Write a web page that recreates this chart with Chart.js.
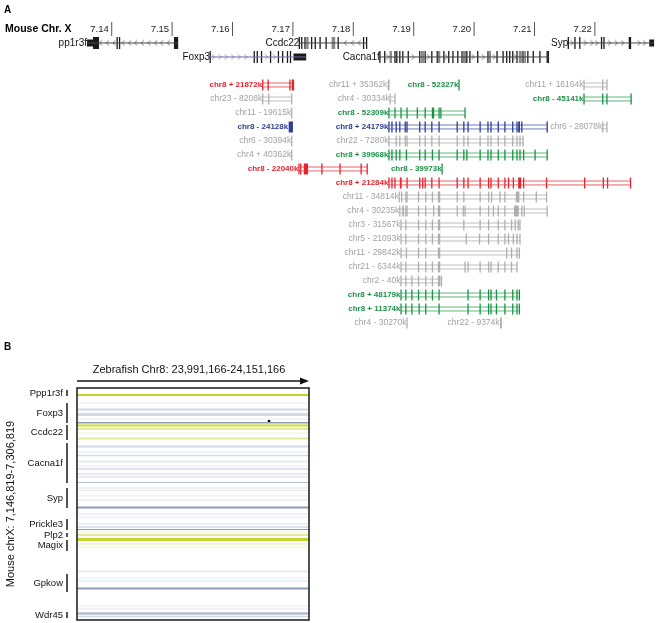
<!DOCTYPE html>
<html>
<head>
<meta charset="utf-8">
<script src="https://cdn.jsdelivr.net/npm/chart.js@4.4.1/dist/chart.umd.min.js"></script>
<style>
  html, body { margin: 0; padding: 0; background: #fff; }
  #wrap { position: relative; width: 658px; height: 623px; }
  #panelA { position: absolute; left: 0; top: 0; }
  #panelB { position: absolute; left: 0; top: 330px; }
</style>
</head>
<body>
<div id="wrap">
  <canvas id="panelA" width="658" height="330"></canvas>
  <canvas id="panelB" width="658" height="293"></canvas>
</div>
<script>
// ---------- panel A data (mouse chrX positions in kb) ----------
const rulerTicks = [7140, 7150, 7160, 7170, 7180, 7190, 7200, 7210, 7220];
const rulerLabels = ["7.14", "7.15", "7.16", "7.17", "7.18", "7.19", "7.20", "7.21", "7.22"];

const geneNames = ["pp1r3f", "Ccdc22", "Syp", "Foxp3", "Cacna1f"];
const geneRows = [-3, -3, -3, -2, -2];
const geneStrands = ["-", "-", "+", "+", "+"];
// exon: position, or [start, end, flag]  (u = UTR, g = alternative exon)
const geneExons = [
  [[7135.9, 7136.9, "u"], [7136.9, 7137.9], 7140.9, 7141.3, [7150.3, 7151.0]],
  [7171.06, 7171.46, 7172.0, [7172.2, 7172.6, "g"], 7173.1, 7173.7, 7174.5, 7175.5, [7176.4, 7177.0, "g"],
   7177.5, 7181.7, 7182.2],
  [7215.6, 7216.7, 7217.5, 7221.1, 7221.5, [7225.6, 7226.0], [7229.0, 7229.8, "u"]],
  [7156.3, 7163.6, 7164.1, 7164.8, 7166.3, 7167.6, 7168.3, 7169.1, 7169.6, [7170.1, 7172.2, "u"]],
  [7184.4, 7185.2, [7186.0, 7186.4, "g"], 7186.9, 7187.2, 7187.7, 7188.2, 7189.1, 7191.0, [7191.2, 7191.7, "g"],
   7191.9, 7193.0, 7193.9, [7194.0, 7194.4, "g"], 7195.0, 7195.8, 7196.5, 7197.3, 7198.0, [7198.1, 7198.7, "g"],
   7198.8, 7199.3, 7200.6, 7202.3, [7202.4, 7202.8, "g"], 7203.8, 7204.8, 7205.4, 7205.9, 7206.4, 7207.1,
   [7207.4, 7207.9, "g"], 7208.1, [7208.3, 7208.6, "g"], 7208.9, 7209.8, 7210.9, 7212.1, 7212.3]
];
const geneChevrons = [
  [7138.2, 7139.3, 7140.4, 7141.9, 7143.0, 7144.0, 7145.1, 7146.2, 7147.3, 7148.3, 7149.4],
  [7178.7, 7179.9, 7181.0],
  [7216.2, 7218.4, 7219.5, 7220.3, 7222.4, 7223.5, 7224.6, 7227.3, 7228.2],
  [7156.8, 7157.9, 7158.9, 7160.0, 7161.1, 7162.2, 7165.6, 7166.9],
  [7185.7, 7189.9, 7192.4, 7195.4, 7199.8, 7201.5, 7203.3, 7206.8]
];

// zebrafish alignments shown under the genes
const alnLabels = [
  "chr8 + 21872k", "chr11 + 35362k", "chr8 - 52327k", "chr11 + 16164k",
  "chr23 - 8208k", "chr4 - 30334k", "chr8 - 45141k",
  "chr11 - 19615k", "chr8 - 52309k",
  "chr8 - 24128k", "chr8 + 24179k", "chr6 - 28078k",
  "chr6 - 30394k", "chr22 - 7280k",
  "chr4 + 40362k", "chr8 + 39968k",
  "chr8 - 22040k", "chr8 - 39973k",
  "chr8 + 21284k", "chr11 - 34814k", "chr4 - 30235k", "chr3 - 31567k", "chr5 - 21093k",
  "chr11 - 29842k", "chr21 - 6344k", "chr2 - 40k", "chr8 + 48179k", "chr8 + 11374k",
  "chr4 - 30270k", "chr22 - 9374k"
];
const alnRows = [0, 0, 0, 0, 1, 1, 1, 2, 2, 3, 3, 3, 4, 4, 5, 5, 6, 6, 7, 8, 9, 10, 11, 12, 13, 14, 15, 16, 17, 17];
const alnKinds = [
  "red", "grey", "green", "grey",
  "grey", "grey", "green",
  "grey", "green",
  "blue", "blue", "grey",
  "grey", "grey",
  "grey", "green",
  "red", "green",
  "red", "grey", "grey", "grey", "grey",
  "grey", "grey", "grey", "green", "green",
  "grey", "grey"
];
const alnExons = [
  [7165.0, 7165.9, 7169.5, [7169.8, 7170.2]],
  [[7185.7, 7186.0]],
  [7197.5],
  [7218.2, 7221.3, 7222.0],
  [7165.0, 7166.0, 7169.8],
  [7186.1, 7186.9],
  [7218.2, 7221.3, 7222.0, 7226.0],
  [7169.8],
  [7185.9, 7186.9, 7187.9, 7188.9, 7190.6, 7191.9, [7193.0, 7193.4], 7194.2, 7194.5, 7198.5],
  [[7169.3, 7170.0]],
  [7185.9, 7186.4, 7187.1, 7187.7, 7188.6, 7188.9, 7191.0, 7191.9, 7193.0, 7194.2, 7197.2, 7198.3, 7199.0,
   7201.0, 7202.3, 7202.8, 7204.0, 7205.1, 7206.4, 7207.1, [7207.3, 7207.6], 7207.9, 7212.1],
  [7221.3, 7222.0],
  [7169.8],
  [7185.9, 7187.1, 7187.7, 7188.6, 7188.9, 7191.0, 7191.9, 7193.0, 7194.2, 7197.2, 7198.3, 7199.0, 7201.0,
   7202.3, 7202.8, 7204.0, 7205.1, 7206.4, 7207.1, 7207.6, 7208.1],
  [7169.8],
  [7185.9, 7186.4, 7187.1, 7187.7, 7188.8, 7191.0, 7191.9, 7193.1, 7194.2, 7197.2, 7198.3, 7198.8, 7201.0,
   7202.3, 7202.8, 7204.0, 7205.1, 7206.4, 7207.1, 7207.6, 7208.2, 7210.1, 7212.1],
  [7171.0, 7171.3, [7171.8, 7172.5], 7174.8, 7177.8, 7181.3, 7182.3],
  [7194.7],
  [7185.9, 7186.4, 7186.9, [7187.7, 7188.0], 7188.9, 7191.0, 7191.5, 7191.9, 7193.0, 7194.2, 7197.2, 7198.3,
   7199.0, 7201.0, 7202.4, 7202.8, 7204.0, 7205.1, 7205.7, 7206.5, [7207.3, 7207.8], 7208.2, 7212.0, 7218.3,
   7221.4, 7222.1, 7225.9],
  [7187.6, 7188.0, 7188.7, 7188.9, 7190.8, 7192.0, 7193.1, [7194.0, 7194.4], 7197.2, 7198.3, 7201.0, 7202.4,
   7202.9, 7204.3, 7205.1, [7206.9, 7207.5], 7208.2, 7210.3, 7212.0],
  [7187.7, [7188.1, 7188.4], 7188.7, 7188.9, 7190.8, 7192.0, 7193.3, [7194.0, 7194.4], 7197.2, 7198.2, 7198.5,
   7201.0, 7202.4, 7203.2, 7204.0, 7205.1, [7206.6, 7207.4], 7207.9, 7208.3, 7212.1],
  [7187.9, 7188.7, 7190.8, 7192.0, 7193.1, [7194.0, 7194.4], 7198.3, 7201.0, 7202.4, 7204.0, 7205.1, 7206.2,
   7206.8, 7207.3, 7207.6],
  [7187.9, 7188.7, 7190.8, 7192.0, 7193.1, [7194.0, 7194.4], 7198.7, 7200.9, 7202.4, 7204.0, 7205.1, 7205.7,
   7206.5, 7207.1, 7207.6],
  [7187.9, 7188.8, 7190.8, 7192.0, [7194.0, 7194.4], 7205.4, 7206.2, 7207.1, 7207.5],
  [7187.9, 7188.7, 7190.8, 7192.0, 7193.1, [7194.0, 7194.4], 7198.5, 7199.0, 7201.0, 7202.4, 7202.8, 7204.0,
   7205.1, 7206.2, 7207.1],
  [7187.9, 7188.7, 7189.7, 7190.8, 7192.0, 7193.1, [7194.0, 7194.4], 7194.6],
  [7187.9, 7188.7, 7189.7, 7190.8, 7192.0, 7193.1, 7194.2, 7199.0, 7201.0, 7202.4, 7202.8, 7203.7, 7205.1,
   7206.4, 7207.1, 7207.5],
  [7187.9, 7188.7, 7189.7, 7190.9, 7192.0, 7194.2, 7199.0, 7201.0, 7202.4, 7202.8, 7203.7, 7205.1, 7206.4,
   7207.1, 7207.5],
  [7188.9],
  [[7204.3, 7204.6]]
];

// ---------- panel B data (dot plot) ----------
const zebraStart = 23991.166, zebraEnd = 24151.166;   // kb
const mouseStart = 7146.819, mouseEnd = 7306.819;     // kb

const bGeneNames = ["Ppp1r3f", "Foxp3", "Ccdc22", "Cacna1f", "Syp", "Prickle3", "Plp2", "Magix", "Gpkow", "Wdr45"];
const bGeneStart = [7148.2, 7157.2, 7172.3, 7184.7, 7215.8, 7237.2, 7246.8, 7251.6, 7275.1, 7301.3];
const bGeneEnd = [7152.3, 7171.0, 7182.7, 7212.3, 7229.6, 7244.8, 7249.6, 7259.2, 7287.5, 7305.4];

// matches along the mouse axis: centre, extent (kb), type, similarity level 1-4
const bBandPos = [
  7151.65, 7157.16, 7161.65, 7165.10, 7168.20, 7170.75, 7172.68, 7175.10, 7177.85, 7181.65,
  7187.16, 7190.96, 7193.37, 7197.51, 7200.61, 7202.68, 7206.13, 7208.20, 7211.99, 7215.79,
  7217.51, 7221.30, 7224.06, 7229.23, 7233.72, 7235.79, 7240.61, 7242.68, 7244.41, 7246.13,
  7248.20, 7251.30, 7254.41, 7256.48, 7273.37, 7277.85, 7279.92, 7285.10, 7297.16, 7299.23,
  7302.34, 7304.41
];
const bBandSpan = [
  1.4, 0.7, 1.4, 2.1, 0.7, 1.0, 1.7, 1.4, 0.7, 1.4,
  1.4, 1.0, 1.0, 1.4, 0.7, 1.0, 1.4, 0.7, 0.7, 1.0,
  0.7, 0.7, 1.0, 1.4, 1.0, 0.7, 1.0, 1.0, 0.7, 0.7,
  1.4, 2.1, 1.4, 0.7, 1.4, 0.7, 1.0, 1.4, 0.7, 0.7,
  1.7, 1.0
];
const bBandKind = [
  "Y", "B", "B", "B", "B", "B", "Y", "Y", "Y", "Y",
  "B", "B", "B", "B", "B", "B", "B", "B", "B", "B",
  "B", "B", "B", "B", "B", "B", "B", "B", "B", "Y",
  "Y", "Y", "Y", "Y", "B", "B", "B", "B", "B", "B",
  "B", "B"
];
const bBandLevel = [
  4, 1, 2, 2, 1, 4, 3, 2, 1, 2,
  2, 1, 2, 1, 1, 2, 1, 2, 3, 1,
  1, 1, 1, 4, 1, 1, 1, 2, 4, 1,
  2, 4, 1, 1, 1, 1, 1, 4, 1, 1,
  3, 2
];
const bDotX = [24123.6];
const bDotY = [7169.6];

// ---------- styling ----------
const FONT = '"Liberation Sans", Arial, sans-serif';
const kindColors = {
  red:   { text: "#e3232e", line: "rgba(230,45,55,0.75)", exon: "#e3232e", bold: true },
  blue:  { text: "#2c3d92", line: "rgba(50,70,160,0.7)", exon: "#2c3d92", bold: true },
  green: { text: "#1a9245", line: "rgba(30,150,70,0.7)", exon: "#1a9245", bold: true },
  grey:  { text: "#a2a2a2", line: "rgba(170,170,170,0.75)", exon: "#b0b0b0", bold: false }
};
const bandColors = {
  Y: ["", "#f1f4d4", "#e3ea9f", "#d4df66", "#c3d52f"],
  B: ["", "#e7ebf1", "#d2d9e4", "#b4bece", "#8f9db6"]
};
const RULER_ROW = -4;
const LINE_GAP = 0.14;

function exonPoints(list, row) {
  return list.map((e) => Array.isArray(e)
    ? { x: (e[0] + e[1]) / 2, y: row, w: e[1] - e[0], f: e[2] || "" }
    : { x: e, y: row, w: 0, f: "" });
}

function spanOf(list) {
  const flat = list.flatMap((e) => (Array.isArray(e) ? [e[0], e[1]] : [e]));
  return [Math.min(...flat), Math.max(...flat)];
}

function exonWidth(ctx) {
  const r = ctx.raw;
  if (!r) return 1.3;
  const xs = ctx.chart.scales.x;
  return Math.max(1.3, xs.getPixelForValue(r.x + r.w / 2) - xs.getPixelForValue(r.x - r.w / 2));
}

function chevron(color) {
  const c = document.createElement("canvas");
  c.width = 5;
  c.height = 7;
  const g = c.getContext("2d");
  g.strokeStyle = color;
  g.lineWidth = 0.8;
  g.beginPath();
  g.moveTo(1.2, 1);
  g.lineTo(3.8, 3.5);
  g.lineTo(1.2, 6);
  g.stroke();
  return c;
}

// ---------- panel A ----------
function buildPanelA() {
  const datasets = [];

  datasets.push({
    data: rulerTicks.map((t) => ({ x: t, y: RULER_ROW })),
    pointStyle: "line", pointRotation: 90, pointRadius: 7,
    pointBorderColor: "#555", pointBorderWidth: 1
  });

  geneNames.forEach((name, i) => {
    const [s, e] = spanOf(geneExons[i]);
    const col = name === "Foxp3" ? "#6a6fa6" : "#444";
    datasets.push({
      data: [{ x: s, y: geneRows[i] }, { x: e, y: geneRows[i] }],
      showLine: true, borderColor: col, borderWidth: 1, pointRadius: 0
    });
    datasets.push({
      data: geneChevrons[i].map((v) => ({ x: v, y: geneRows[i] })),
      pointStyle: chevron(col), pointRotation: geneStrands[i] === "-" ? 180 : 0, pointRadius: 3
    });
    datasets.push({
      data: exonPoints(geneExons[i], geneRows[i]),
      pointStyle: "line", pointRotation: 90,
      pointRadius: (ctx) => (ctx.raw && ctx.raw.f === "u" ? 3.5 : 6),
      pointBorderColor: (ctx) => (ctx.raw && ctx.raw.f === "g" ? "#8a8a8a" : "#1a1a1a"),
      pointBorderWidth: exonWidth
    });
  });

  alnLabels.forEach((label, i) => {
    const c = kindColors[alnKinds[i]];
    const [s, e] = spanOf(alnExons[i]);
    const r = alnRows[i];
    if (e > s) {
      [-LINE_GAP, LINE_GAP].forEach((off) => {
        datasets.push({
          data: [{ x: s, y: r + off }, { x: e, y: r + off }],
          showLine: true, borderColor: c.line, borderWidth: 1, pointRadius: 0
        });
      });
    }
    datasets.push({
      data: exonPoints(alnExons[i], r),
      pointStyle: "line", pointRotation: 90, pointRadius: 5.5,
      pointBorderColor: c.exon, pointBorderWidth: exonWidth
    });
  });

  const textPlugin = {
    id: "panelAText",
    afterDatasetsDraw(chart) {
      const { ctx, scales: { x, y } } = chart;
      ctx.save();
      ctx.textBaseline = "middle";
      ctx.fillStyle = "#000";
      ctx.font = `bold 10px ${FONT}`;
      ctx.textAlign = "left";
      ctx.fillText("A", 4, 10);
      ctx.font = `bold 10.5px ${FONT}`;
      ctx.fillText("Mouse Chr. X", 5, y.getPixelForValue(RULER_ROW));

      ctx.font = `9.5px ${FONT}`;
      ctx.fillStyle = "#222";
      ctx.textAlign = "right";
      rulerTicks.forEach((t, i) => {
        ctx.fillText(rulerLabels[i], x.getPixelForValue(t) - 3, y.getPixelForValue(RULER_ROW));
      });

      ctx.font = `10px ${FONT}`;
      ctx.fillStyle = "#111";
      geneNames.forEach((name, i) => {
        const [s] = spanOf(geneExons[i]);
        ctx.fillText(name, x.getPixelForValue(s), y.getPixelForValue(geneRows[i]));
      });

      alnLabels.forEach((label, i) => {
        const c = kindColors[alnKinds[i]];
        const [s] = spanOf(alnExons[i]);
        ctx.font = c.bold ? `bold 8px ${FONT}` : `8.5px ${FONT}`;
        ctx.fillStyle = c.text;
        ctx.fillText(label, x.getPixelForValue(s) - 0.5, y.getPixelForValue(alnRows[i]));
      });
      ctx.restore();
    }
  };

  return new Chart(document.getElementById("panelA"), {
    type: "scatter",
    data: { datasets },
    options: {
      responsive: false,
      animation: false,
      devicePixelRatio: 1,
      events: [],
      layout: { padding: 0, autoPadding: false },
      scales: {
        x: { type: "linear", display: false, min: 7121.5, max: 7230.45 },
        y: { type: "linear", display: false, min: -6.07, max: 17.5, reverse: true }
      },
      plugins: { legend: { display: false }, tooltip: { enabled: false } }
    },
    plugins: [textPlugin]
  });
}

// ---------- panel B ----------
function buildPanelB() {
  const datasets = bBandPos.map((pos, i) => ({
    data: [{ x: zebraStart, y: pos }, { x: zebraEnd, y: pos }],
    showLine: true,
    pointRadius: 0,
    borderColor: bandColors[bBandKind[i]][bBandLevel[i]],
    borderWidth: (ctx) => {
      const ys = ctx.chart.scales.y;
      return Math.max(0.8, Math.abs(ys.getPixelForValue(pos + bBandSpan[i] / 2) - ys.getPixelForValue(pos - bBandSpan[i] / 2)));
    }
  }));
  datasets.push({
    data: bDotX.map((v, i) => ({ x: v, y: bDotY[i] })),
    pointRadius: 1.4, pointBackgroundColor: "#000", pointBorderWidth: 0
  });

  const decor = {
    id: "panelBDecor",
    afterDraw(chart) {
      const { ctx, chartArea: a, scales: { y } } = chart;
      ctx.save();
      ctx.fillStyle = "#000";
      ctx.textBaseline = "middle";
      ctx.font = `bold 10px ${FONT}`;
      ctx.textAlign = "left";
      ctx.fillText("B", 4, 17);

      ctx.font = `11px ${FONT}`;
      ctx.textAlign = "center";
      ctx.fillStyle = "#111";
      ctx.fillText("Zebrafish Chr8: 23,991,166-24,151,166", (a.left + a.right) / 2 - 4, a.top - 18);

      // arrow
      const ay = a.top - 7;
      ctx.strokeStyle = "#111";
      ctx.lineWidth = 1.5;
      ctx.beginPath();
      ctx.moveTo(a.left, ay);
      ctx.lineTo(a.right - 6, ay);
      ctx.stroke();
      ctx.beginPath();
      ctx.moveTo(a.right, ay);
      ctx.lineTo(a.right - 9, ay - 3.5);
      ctx.lineTo(a.right - 9, ay + 3.5);
      ctx.closePath();
      ctx.fill();

      // box
      ctx.strokeStyle = "#1a1a1a";
      ctx.lineWidth = 1.5;
      ctx.strokeRect(a.left, a.top, a.right - a.left, a.bottom - a.top);

      // gene extents on the mouse axis
      ctx.font = `9.5px ${FONT}`;
      ctx.textAlign = "right";
      bGeneNames.forEach((name, i) => {
        const y1 = y.getPixelForValue(bGeneStart[i]);
        const y2 = y.getPixelForValue(bGeneEnd[i]);
        ctx.beginPath();
        ctx.moveTo(a.left - 10, y1);
        ctx.lineTo(a.left - 10, y2);
        ctx.stroke();
        ctx.fillText(name, a.left - 14, (y1 + y2) / 2);
      });

      ctx.translate(11, (a.top + a.bottom) / 2);
      ctx.rotate(-Math.PI / 2);
      ctx.textAlign = "center";
      ctx.font = `11px ${FONT}`;
      ctx.fillText("Mouse chrX: 7,146,819-7,306,819", 0, 0);
      ctx.restore();
    }
  };

  return new Chart(document.getElementById("panelB"), {
    type: "scatter",
    data: { datasets },
    options: {
      responsive: false,
      animation: false,
      devicePixelRatio: 1,
      events: [],
      layout: { padding: { left: 77, right: 349, top: 58, bottom: 3 }, autoPadding: false },
      scales: {
        x: { type: "linear", display: false, min: zebraStart, max: zebraEnd },
        y: { type: "linear", display: false, min: mouseStart, max: mouseEnd, reverse: true }
      },
      plugins: { legend: { display: false }, tooltip: { enabled: false } }
    },
    plugins: [decor]
  });
}

buildPanelA();
buildPanelB();
</script>
</body>
</html>
